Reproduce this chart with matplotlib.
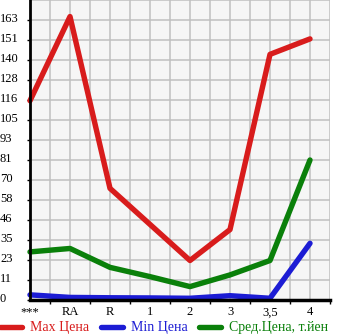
import matplotlib
matplotlib.use("Agg")
import matplotlib.pyplot as plt
import matplotlib.transforms as mtransforms
import numpy as np

categories = ['***', 'RA', 'R', '1', '2', '3', '3,5', '4']
max_price = [116, 165, 65, 44, 23, 41, 143, 152]
min_price = [3, 1.5, 1.3, 1.2, 1, 2.5, 1, 33]
avg_price = [28, 30, 19, 13.6, 7.8, 14.6, 23, 81.5]
ytick_labels = ['0', '11', '23', '35', '46', '58', '70', '81', '93', '105',
                '116', '128', '140', '151', '163']
legend_labels = ['Max Цена', 'Min Цена', 'Сред.Цена, т.йен']

RED = '#d81c1c'
BLUE = '#1c1cd4'
GREEN = '#0a800a'

plt.rcParams['font.family'] = ['Liberation Serif', 'DejaVu Serif']

fig = plt.figure(figsize=(3.45, 3.35), dpi=100)
ax = fig.add_axes([30/345, 35/335, 300/345, 300/335])
ax.set_facecolor('#f6f6f6')

step = 163/14
ymax = step*15
ax.set_xlim(0, 7.5)
ax.set_ylim(0, ymax)

# grid
for gx in np.arange(0.5, 7.51, 0.5):
    ax.axvline(gx, color='#c0c0c0', lw=1.1, zorder=1)
for i in range(1, 16):
    ax.axhline(i*step, color='#c0c0c0', lw=1.1, zorder=1)

x = np.arange(len(categories))
lw = 3.9
l1, = ax.plot(x, max_price, color=RED, lw=lw, solid_capstyle='round', zorder=3, clip_on=False)
l2, = ax.plot(x, min_price, color=BLUE, lw=lw, solid_capstyle='round', zorder=3, clip_on=False)
l3, = ax.plot(x, avg_price, color=GREEN, lw=lw, solid_capstyle='round', zorder=3, clip_on=False)

for s in ['top', 'right']:
    ax.spines[s].set_visible(False)
ax.spines['left'].set_linewidth(2)
ax.spines['bottom'].set_linewidth(2.5)
ax.spines['left'].set_zorder(4)
ax.spines['bottom'].set_zorder(4)

ax.set_xticks(x)
ax.set_xticklabels(categories, fontsize=9)
ax.set_xticks(np.arange(0.5, 7.51, 0.5)[::2], minor=True)
ax.tick_params(axis='x', which='major', length=0, pad=4.5)
ax.tick_params(axis='x', which='minor', length=3, width=1, direction='out')

yt = [i*step for i in range(15)]
ax.set_yticks(yt)
ax.set_yticklabels(ytick_labels, fontsize=9)
ax.tick_params(axis='y', which='major', length=2.2, width=1, pad=19.4)
off = mtransforms.ScaledTranslation(0, 3/100, fig.dpi_scale_trans)
for lab in ax.get_yticklabels():
    lab.set_horizontalalignment('left')
    lab.set_transform(lab.get_transform() + off)

leg = fig.legend([l1, l2, l3], legend_labels, loc='center left',
                 bbox_to_anchor=(0.0, 1 - 328/335), ncol=3, frameon=False,
                 fontsize=10, handlelength=1.6, handletextpad=0.55,
                 columnspacing=0.85, borderaxespad=0, borderpad=0,
                 labelcolor='linecolor')

fig.savefig('out.png', dpi=100)
